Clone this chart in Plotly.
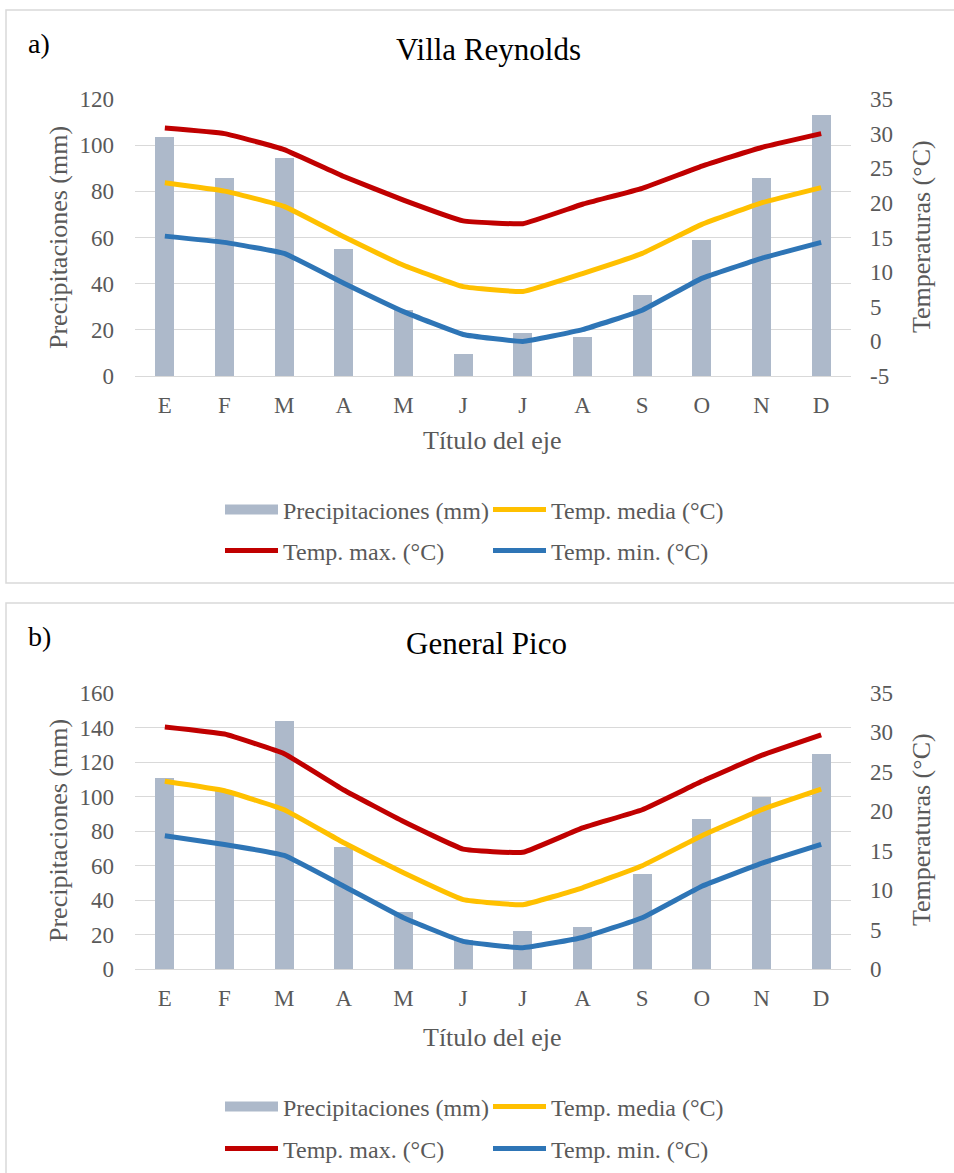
import plotly.graph_objects as go

W, H = 954, 1173

months = ["E", "F", "M", "A", "M", "J", "J", "A", "S", "O", "N", "D"]
xcat = list(range(12))

# Panel a) Villa Reynolds
vr_precip = [103.5, 85.6, 94.5, 55, 28.5, 9.4, 18.8, 17.1, 35.1, 58.8, 85.7, 113]
vr_tmax = [30.8, 30.0, 27.7, 23.8, 20.4, 17.4, 17.0, 19.8, 22.1, 25.3, 28.0, 30.0]
vr_tmed = [22.9, 21.7, 19.5, 15.1, 11.0, 7.9, 7.2, 9.8, 12.7, 16.9, 20.0, 22.2]
vr_tmin = [15.2, 14.3, 12.7, 8.4, 4.3, 1.0, 0.0, 1.7, 4.5, 9.1, 12.0, 14.3]
vr_temp_ticks = [-5, 0, 5, 10, 15, 20, 25, 30, 35]
vr_temp_labels = ["-5", "0", "5", "10", "15", "20", "25", "30", "35"]

# Panel b) General Pico
gp_precip = [111, 103, 143.8, 70.5, 32.8, 17, 21.8, 24.5, 55.2, 87.1, 99.9, 124.4]
gp_tmax = [30.7, 29.8, 27.3, 22.7, 18.7, 15.2, 14.8, 17.9, 20.2, 23.8, 27.1, 29.7]
gp_tmed = [23.8, 22.6, 20.2, 16.0, 12.2, 8.8, 8.15, 10.3, 13.1, 16.9, 20.2, 22.8]
gp_tmin = [16.9, 15.8, 14.4, 10.5, 6.5, 3.5, 2.7, 4.0, 6.5, 10.5, 13.4, 15.8]

series_names = ["Precipitaciones (mm)", "Temp. media (°C)", "Temp. max. (°C)", "Temp. min. (°C)"]
C_BAR = "#ADB9CA"
C_MED = "#FFC000"
C_MAX = "#C00000"
C_MIN = "#2E75B6"
GRID = "#D9D9D9"
TXT = "#595959"
FONT = "Liberation Serif"

def px_x(p):
    return p / W

def px_y(p):
    return 1 - p / H

fig = go.Figure()

panels = [
    dict(precip=vr_precip, tmax=vr_tmax, tmed=vr_tmed, tmin=vr_tmin,
         xa="x", ya="y", ya2="y2", legs=["legend", "legend2", "legend3", "legend4"]),
    dict(precip=gp_precip, tmax=gp_tmax, tmed=gp_tmed, tmin=gp_tmin,
         xa="x2", ya="y3", ya2="y4", legs=["legend5", "legend6", "legend7", "legend8"]),
]

for p in panels:
    fig.add_trace(go.Bar(x=xcat, y=p["precip"], width=0.32, marker_color=C_BAR,
                         marker_line_width=0, xaxis=p["xa"], yaxis=p["ya"],
                         showlegend=False, name=series_names[0]))
    for vals, col in [(p["tmed"], C_MED), (p["tmax"], C_MAX), (p["tmin"], C_MIN)]:
        fig.add_trace(go.Scatter(x=xcat, y=vals, mode="lines",
                                 line=dict(color=col, width=5, shape="spline", smoothing=0.3),
                                 xaxis=p["xa"], yaxis=p["ya2"], showlegend=False))
    # legend entries
    for name, col, lw, leg in zip(series_names, [C_BAR, C_MED, C_MAX, C_MIN],
                                  [12, 5, 5, 5], p["legs"]):
        fig.add_trace(go.Scatter(x=[None], y=[None], mode="lines", name=name,
                                 line=dict(color=col, width=lw),
                                 xaxis=p["xa"], yaxis=p["ya2"], legend=leg, showlegend=True))

tickfont = dict(family=FONT, size=23, color=TXT)

xcommon = dict(tickmode="array", tickvals=xcat, ticktext=months, range=[-0.5, 11.5],
               showgrid=False, zeroline=False, showline=True, linecolor=GRID, linewidth=1,
               ticks="", tickfont=tickfont, ticklabelstandoff=8)

fig.update_layout(
    width=W, height=H, margin=dict(l=0, r=0, t=0, b=0, autoexpand=False),
    paper_bgcolor="white", plot_bgcolor="white",
    font=dict(family=FONT, color=TXT),
    bargap=0,
    xaxis=dict(domain=[px_x(135), px_x(851)], anchor="y", **xcommon),
    yaxis=dict(domain=[px_y(376), px_y(99)], range=[0, 120], dtick=20, tick0=0,
               showgrid=True, gridcolor=GRID, gridwidth=1, zeroline=False,
               ticks="", tickfont=tickfont, ticklabelstandoff=20, anchor="x"),
    yaxis2=dict(overlaying="y", side="right", range=[-5, 35],
                tickmode="array", tickvals=vr_temp_ticks, ticktext=vr_temp_labels,
                showgrid=False, zeroline=False, ticks="", tickfont=tickfont,
                ticklabelstandoff=18, anchor="x"),
    xaxis2=dict(domain=[px_x(135), px_x(851)], anchor="y3", **xcommon),
    yaxis3=dict(domain=[px_y(969), px_y(693)], range=[0, 160], dtick=20, tick0=0,
                showgrid=True, gridcolor=GRID, gridwidth=1, zeroline=False,
                ticks="", tickfont=tickfont, ticklabelstandoff=20, anchor="x2"),
    yaxis4=dict(overlaying="y3", side="right", range=[0, 35], dtick=5, tick0=0,
                showgrid=False, zeroline=False, ticks="", tickfont=tickfont,
                ticklabelstandoff=18, anchor="x2"),
)

# legends: one per entry, placed like the original two-column layout
leg_font = dict(family=FONT, size=24, color=TXT)
leg_pos = [(220, 510), (488, 510), (220, 551), (488, 551),
           (220, 1107), (488, 1107), (220, 1149), (488, 1149)]
leg_layout = {}
for i, (lx, ly) in enumerate(leg_pos):
    key = "legend" if i == 0 else f"legend{i+1}"
    leg_layout[key] = dict(x=px_x(lx), y=px_y(ly), xanchor="left", yanchor="middle",
                           orientation="h", font=leg_font, itemwidth=53,
                           bgcolor="rgba(0,0,0,0)", borderwidth=0,
                           itemclick=False, itemdoubleclick=False)
fig.update_layout(**leg_layout)

# chart frames
fig.add_shape(type="rect", xref="paper", yref="paper", x0=px_x(6), x1=px_x(970),
              y0=px_y(583), y1=px_y(10), line=dict(color=GRID, width=1.5), layer="below")
fig.add_shape(type="rect", xref="paper", yref="paper", x0=px_x(6), x1=px_x(970),
              y0=px_y(1190), y1=px_y(603), line=dict(color=GRID, width=1.5), layer="below")

def ann(text, x, y, size, color="black", angle=0, xanchor="center"):
    fig.add_annotation(text=text, x=px_x(x), y=px_y(y), xref="paper", yref="paper",
                       showarrow=False, xanchor=xanchor, yanchor="middle", textangle=angle,
                       font=dict(family=FONT, size=size, color=color))

ann("a)", 26, 43, 28, xanchor="left")
ann("Villa Reynolds", 488, 50, 31)
ann("b)", 26, 636, 28, xanchor="left")
ann("General Pico", 487, 643, 31)
ann("Precipitaciones (mm)", 58, 238, 26, TXT, -90)
ann("Temperaturas (°C)", 921, 237, 26, TXT, -90)
ann("Título del eje", 493, 441, 26, TXT)
ann("Precipitaciones (mm)", 58, 831, 26, TXT, -90)
ann("Temperaturas (°C)", 921, 830, 26, TXT, -90)
ann("Título del eje", 493, 1037, 26, TXT)

fig.write_html("out.html", config={"displayModeBar": False},
               post_script="document.body.style.margin='0';document.body.style.overflow='hidden';")
